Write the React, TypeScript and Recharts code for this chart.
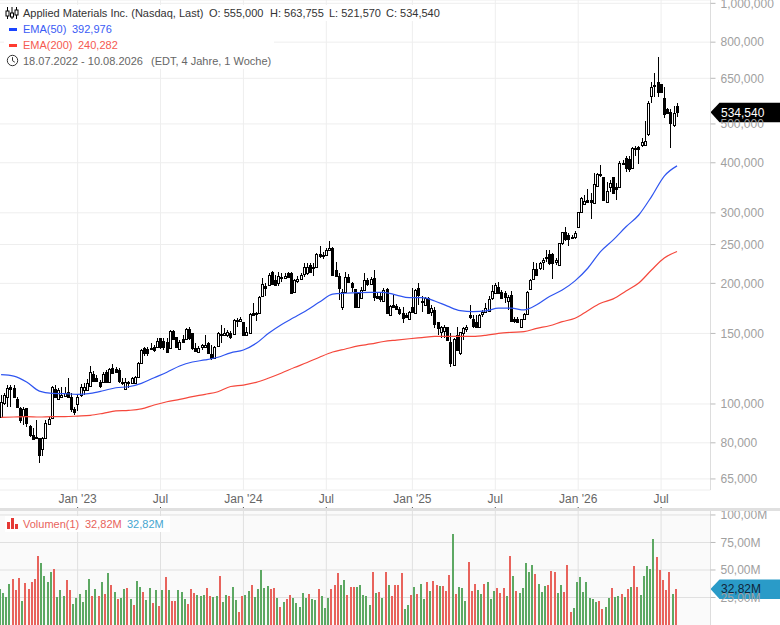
import React from 'react';
import { ComposedChart, Bar, Line, XAxis, YAxis, CartesianGrid, ReferenceLine } from 'recharts';

// weekly candles in thousands, 18.07.2022 - 10.08.2026
const opens = [
  92.8,100.6,104.2,110.3,109.7,102.9,97.7,93.3,97.7,88.1,
  83.7,82.7,82.2,77.1,82.2,89.1,92.3,109.0,102.9,104.2,
  104.7,107.2,104.2,97.2,100,105.3,108.4,108.4,110.9,118.8,
  116.1,113.5,113.5,120.2,113.5,123.0,122.3,121.6,113.5,109.0,
  113.5,112.9,112.9,116.8,126.6,138.0,137.2,138.0,138.8,138.8,
  146.2,143.7,142.9,138.0,152.1,147.0,137.2,145.3,145.3,153.9,
  150.4,138.0,134.8,138.8,138.8,142.0,133.3,130.3,139.6,149.5,
  148.7,148.7,150.4,149.5,162.1,161.2,160.2,148.7,150.4,168.7,
  167.8,168.7,186.0,197.0,198.1,213.5,203.9,200.4,206.3,206.3,
  212.3,212.3,190.3,202.7,205.2,211.1,212.3,222.2,219.7,219.7,
  236.5,235.2,235.2,242,245.1,216,208.7,174.6,190.3,207.5,
  200.4,193.6,174.6,183.9,192.5,203.9,199.3,206.3,186.0,186.0,
  180.8,193.6,166.8,176.7,175.6,172.7,168.7,166.8,163.0,174.6,
  168.7,194.7,180.8,176.7,183.9,169.7,171.7,160.2,151.3,152.1,
  155.7,142.9,125.1,148.7,134.1,150.4,153.9,166.8,163.0,160.2,
  155.7,167.8,169.7,170.7,183.9,189.2,195.9,190.3,189.2,180.8,
  187.0,163.0,163.0,155.7,163.0,167.8,193.6,205.2,217.2,218.4,
  226.1,231.1,236.5,236.5,226.1,222.2,252,268.4,263.9,260.9,
  260.9,276.1,301,315.2,322.5,322.5,316.9,350.4,375,368.5,
  318.8,348.4,368.5,348.4,348.4,398.5,412.2,408,387.3,432,
  437.5,442,442,472,587,626,638,629,580,546,
  537,497.5,555,
];
const highs = [
  105.3,106.6,111.5,111.5,111.5,104.2,98.3,98.3,97.7,88.6,
  87.1,91.2,82.2,82.7,91.2,92.8,110.9,111.5,109.7,110.3,
  110.3,116.1,106.6,98.3,105.3,112.2,112.9,115.5,124.4,120.9,
  118.2,114.8,120.2,121.6,123.0,125.8,123.7,123.0,116.1,116.1,
  114.1,116.8,117.5,127.3,137.2,138.8,138.8,142.0,140.4,146.2,
  146.2,146.2,146.2,153.0,153.0,147.0,144.5,148.7,154.8,155.7,
  150.4,142.0,139.6,141.2,148.7,142.9,140.4,139.6,151.3,157.5,
  154.8,153.0,152.1,163.0,164.0,164.9,160.2,155.7,168.7,178.7,
  169.7,186.0,206.3,200.4,212.3,214.8,209.9,213.5,212.3,212.3,
  213.5,213.5,205.2,208.7,212.3,224.8,224.8,224.8,224.8,237.9,
  247.9,239.2,245.1,255,246.5,226.1,212.3,193.6,213.5,211.1,
  201.6,193.6,189.2,195.9,212.3,206.3,207.5,216,190.3,190.3,
  194.7,194.7,176.7,187.0,177.7,174.6,174.6,168.7,170.7,194.7,
  193.6,200.4,186.0,184.9,184.9,176.7,174.6,160.2,156.6,157.5,
  155.7,150.4,146.2,155.7,151.3,155.7,157.5,176.7,166.8,166.8,
  167.8,171.7,178.7,186.0,198.1,200.4,201.6,192.5,191.4,187.0,
  191.4,164.9,164.9,163.0,168.7,191.4,205.2,226.1,224.8,226.1,
  231.1,242,242,237.9,231.1,252,268.4,276.1,266.9,263.9,
  270,301.3,327.8,331.6,343.5,336,376.6,376.6,394,368.5,
  357.5,361.5,368.5,355.5,403.1,405.5,417,417,437.5,440,
  440,460,510,569,638,668.5,735,629,617,549,
  546,555,563.755,
];
const lows = [
  92.8,99.4,98.3,98.3,103.5,98.3,89.6,88.6,87.6,82.7,
  81.3,82.2,71.3,74.2,82.2,88.6,92.3,104.2,102.3,103.5,
  104.2,103.5,95.5,93.9,96.1,104.2,105.3,107.8,110.3,113.5,
  113.5,109.7,112.9,113.5,113.5,118.8,119.5,112.9,111.5,108.4,
  109.7,112.9,112.9,116.1,126.6,131.8,131.8,136.4,134.8,138.8,
  137.2,136.4,134.1,137.2,145.3,138.0,136.4,142.0,144.5,144.5,
  136.4,134.8,134.1,136.4,138.0,133.3,128.8,129.5,138.8,142.0,
  147.8,147.0,145.3,148.7,155.7,160.2,147.8,148.7,149.5,166.8,
  161.2,167.8,184.9,186.0,197.0,198.1,197.0,197.0,201.6,205.2,
  206.3,188.1,189.2,200.4,203.9,207.5,209.9,212.3,208.7,218.4,
  231.1,229.9,233.8,240.6,208.7,207.5,181.8,171.7,190.3,200.4,
  190.3,173.7,173.7,182.8,191.4,197.0,198.1,180.8,182.8,179.7,
  180.8,167.8,166.8,173.7,171.7,166.8,159.3,164.0,162.1,168.7,
  167.8,176.7,169.7,175.6,168.7,165.9,154.8,148.7,146.2,146.2,
  144.5,123.7,124.4,135.6,132.5,144.5,151.3,163.0,154.8,154.8,
  154.8,164.9,168.7,169.7,181.8,188.1,188.1,183.9,178.7,171.7,
  161.2,159.3,159.3,155.7,163.0,167.8,192.5,203.9,208.7,216,
  216,226.1,222.2,205.2,222.2,221,249.3,255,247.9,257.9,
  257.9,274.5,299.3,313.5,316.9,289.2,315.2,348.4,368.5,320.7,
  318.8,337.6,334.4,322.5,348.4,394,378.8,378.8,385,417,
  396.4,437.5,440,467,565.5,584,584,597,516,528,
  435,491.5,521.57,
];
const closes = [
  101.2,105.3,109.7,109.0,104.2,98.3,91.2,97.2,89.6,83.7,
  81.7,82.2,74.6,82.2,89.6,91.7,110.3,104.2,108.4,105.3,
  106.6,104.2,97.2,95.5,104.2,110.3,110.3,112.9,120.2,114.1,
  114.1,110.9,118.8,113.5,122.3,119.5,120.2,114.1,112.9,113.5,
  112.9,116.1,116.8,126.6,136.4,134.1,134.1,137.8,136.4,143.7,
  138.8,138.8,134.8,152.1,145.3,138.8,142.9,142.9,153.9,146.2,
  138.0,135.6,138.0,140.4,140.4,134.1,130.3,138.8,150.4,148.7,
  150.4,151.3,147.0,162.1,161.2,163.0,148.7,151.3,167.8,166.8,
  168.7,184.9,199.3,194.7,209.9,199.3,198.1,208.7,207.5,208.7,
  207.5,189.2,203.9,205.2,209.9,219.7,219.7,213.5,219.0,236.5,
  233.8,233.8,242,245.1,209.9,208.7,194.7,190.3,207.5,201.6,
  195.9,174.6,189.2,192.5,203.9,199.3,205.2,184.9,183.9,182.8,
  192.5,168.7,175.6,174.6,172.7,168.7,164.0,164.9,169.7,169.7,
  192.5,187.0,179.7,183.9,168.7,173.7,158.4,154.8,155.7,155.7,
  144.5,126.6,145.3,136.4,151.3,154.8,155.7,164.9,156.6,155.7,
  166.8,169.7,173.7,182.8,191.4,198.1,189.2,183.9,184.9,184.9,
  161.2,161.2,160.2,163.0,167.8,190.3,203.9,217.2,209.9,224.8,
  228.7,232.5,224.8,224.8,228.7,252,268.4,257.9,257.9,260,
  266.9,301,326,320.7,318.8,318.8,354,375,372.8,322.5,
  339.6,355.5,336,343.5,398.5,396.4,387.3,385,435,435,
  432,449.5,452.5,565.5,620,623,600,600,528,531,
  504,534,534.54,
];

// moving averages as read every fourth week
const ema50 = [
  118.4,117.4,113.5,107.7,106.3,106.1,105.7,106.3,107.9,109.8,110.4,112.6,116.3,120,
  124.4,127.3,128.8,130.8,134.2,136.4,141.7,150.4,158,164.6,171.7,180,188,189,
  189.7,190,190,187,184.2,184.2,180.8,175.5,171,170,170.7,173.4,173.4,171.7,
  176.8,185.5,192.5,202.9,218.2,240,256.8,276.9,296.3,329.4,370.7,392.976,
];
const ema200 = [
  92.6,92.8,93,92.8,93,93,93.3,93.7,94.8,96.1,96.4,97.2,99.4,101.3,
  102.7,104.3,105.7,107.3,110.6,111.5,113.2,116.1,119.5,123.3,126.9,131,134.8,137.2,
  139.6,141.2,143.2,144.4,145.5,146.5,147.5,147.5,147.5,147.5,148.4,150.1,151,151.5,
  154.5,156.8,160.5,163.7,171,178.4,183,191.5,200.4,216,231.4,240.282,
];

// volume in millions
const volumes = [
  32.8,29.2,25.6,37.3,41.8,31.9,42.7,22,38.2,32.8,
  39.1,41.8,62.6,56.3,44.5,39.1,48.2,50.9,25.6,31.9,
  26.5,40.9,31.9,19.3,24.7,28.3,21.1,31.9,41.8,26.5,
  32.8,26.5,39.1,28.3,47.3,36.4,30.1,23.8,24.7,32.8,
  33.7,23.8,18.4,40,34.6,30.1,22.9,33.7,20.2,31.9,
  17.5,31.9,43.6,31.9,22,22,31.9,30.1,23.8,19.3,
  32.8,29.2,27.4,26.5,27.4,33.7,26.5,25.6,26.5,44.5,
  21.1,27.4,26.5,34.6,22.9,12,26.5,27.4,31,36.4,
  25.6,32.8,50,33.7,35.5,32.8,33.7,24.7,16.6,21.1,
  23.8,27.4,24.7,20.2,16.6,29.2,24.7,28.3,23.8,22.9,
  32.8,26.5,15.7,24.7,32.8,36.4,47.3,36.4,40.9,27.4,
  34.6,34.6,34.6,36.4,27.4,26.5,18.4,48.2,29.2,30.1,
  24.7,48.2,36.4,26.5,36.4,36.4,47.3,14.7,18.4,27.4,
  34.6,28.3,37.3,23.8,39.1,31,40,36.4,35.5,35.5,
  31,45.5,82.5,28.3,34.6,33.7,22,57.2,31,37.3,
  31.9,28.3,37.3,39.1,23.8,31,33.7,29.2,33.7,26.5,
  62.6,44.5,31,29.2,33.7,56.3,48.2,54.5,46.4,37.3,
  30.1,35.5,36.4,49.1,48.2,29.2,36.4,30.1,54.5,12,
  15.7,39.1,43.6,30.1,39.1,24.7,23.8,21.1,22,14.7,
  16.6,24.7,33.7,25.6,26.5,28.3,25.6,32.8,34.6,53.6,
  34.6,27.4,44.5,53.6,50.9,78,61.7,50,40.9,31.9,
  48.2,28.3,32.82,
];
// G/R = filled green/red, g/r = hollow
const volumeKinds =
  'GGGGRrRGRR' + 'RrRGGGgRGG' + 'GrRGGGgGGR' + 'GrGRGRGrGG' + 'RGrGGRGgRG' + 'RGrGRRGgGR' +
  'RRgGGRRGgR' + 'GGRgGRRGgR' + 'GGGgGRRGrG' + 'RRGGgGGRGg' + 'RGGGrRRGGr' + 'RRGGgGGRGR' +
  'gRGRRrRGGR' + 'gRGGRgRRGR' + 'RRGRGgGRRR' + 'GgRGGGrRRG' + 'RgRGGGgGRG' + 'GgRRRGGrRR' +
  'GGgGGGGgRR' + 'GGrGGRGrGR' + 'RGGgGGRRrR' + 'RGR';

const priceTicks = [65, 80, 100, 150, 200, 250, 300, 400, 500, 650, 800, 1000];
const volumeTicks = [25, 50, 75, 100];
const timeTickWeeks = [24, 50, 76, 102, 129, 155, 181, 207];
const timeTickLabels = ["Jan '23", 'Jul', "Jan '24", 'Jul', "Jan '25", 'Jul', "Jan '26", 'Jul'];
const lastPrice = 534.54;
const lastVolume = 32.82;
const emptyWeeks = 10; // free room right of the last candle

const priceData = [...closes, ...Array(emptyWeeks).fill(null)].map((c, i) =>
  c === null
    ? { week: i }
    : { week: i, open: opens[i], close: c, high: highs[i], low: lows[i], range: [lows[i], highs[i]] },
);
const ema50Points = ema50.map((value, k) => ({ week: k * 4, value }));
const ema200Points = ema200.map((value, k) => ({ week: k * 4, value }));
const volumeData = [...volumes, ...Array(emptyWeeks).fill(null)].map((v, i) =>
  v === null ? { week: i } : { week: i, volume: v, kind: volumeKinds[i] },
);

const FONT = '"Liberation Sans", Arial, sans-serif';
const CHART_MARGIN = { top: 0, right: 0, bottom: 0, left: -0.5 };
const AXIS_WIDTH = 69.5;

const Candle = (props: any) => {
  const { x, y, width, height, payload } = props;
  if (payload.open === undefined) return null;
  const h = Math.abs(height);
  const logSpan = Math.log(payload.high) - Math.log(payload.low) || 1;
  const at = (v: number) => y + (h * (Math.log(payload.high) - Math.log(v))) / logSpan;
  const left = Math.round(x + width / 2 - 1.5);
  const hollow = payload.close >= payload.open;
  const top = Math.round(at(Math.max(payload.open, payload.close)));
  const bottom = Math.max(Math.round(at(Math.min(payload.open, payload.close))), top + 1);
  return (
    <g shapeRendering="crispEdges">
      <line x1={left + 1.5} x2={left + 1.5} y1={y} y2={y + h} stroke="#000" strokeWidth={1} />
      <rect x={left + 0.5} y={top + 0.5} width={2} height={bottom - top} fill={hollow ? '#fff' : '#000'} stroke="#000" strokeWidth={1} />
    </g>
  );
};

const VolumeBar = (props: any) => {
  const { x, y, width, height, payload } = props;
  if (!payload.kind) return null;
  const left = Math.round(x + width / 2 - 2.5);
  const up = payload.kind === 'G' || payload.kind === 'g';
  const hollow = payload.kind === 'g' || payload.kind === 'r';
  const color = up ? '#5da863' : '#e8635c';
  if (hollow) {
    return (
      <rect x={left + 0.5} y={y + 0.5} width={1.4} height={height} fill={up ? '#a5d0a8' : '#f5aaa6'} stroke={color} strokeWidth={1} shapeRendering="crispEdges" />
    );
  }
  return <rect x={left} y={y} width={2.4} height={height} fill={color} shapeRendering="crispEdges" />;
};

const TimeTick = (props: any) => {
  const { x, y, payload } = props;
  const label = timeTickLabels[timeTickWeeks.indexOf(payload.value)];
  return (
    <g>
      <text x={x} y={y + 11} textAnchor="middle" fill="#666" fontSize={12} fontFamily={FONT}>{label}</text>
      <line x1={x} x2={x} y1={y + 15} y2={y + 18} stroke="#555" />
    </g>
  );
};

const priceTag = (text: string, fill: string, color: string) => (props: any) => {
  const right = Math.max(props.x1 ?? 0, props.x2 ?? 0);
  const cy = props.y1 ?? 0;
  return (
    <g>
      <polygon points={`${right},${cy} ${right + 9},${cy - 9.5} 780,${cy - 9.5} 780,${cy + 10} ${right + 9},${cy + 10}`} fill={fill} />
      <text x={721} y={cy + 4.5} fill={color} fontSize={12} fontFamily={FONT}>{text}</text>
    </g>
  );
};

const Txt = ({ x, y, color, children }: any) => (
  <span style={{ position: 'absolute', left: x, top: y, color, fontSize: 11, lineHeight: '16px', fontFamily: FONT, whiteSpace: 'pre' }}>{children}</span>
);

const Header = () => (
  <>
    <div style={{ position: 'absolute', left: 4, top: 5, width: 441, height: 16, background: '#fff' }} />
    <div style={{ position: 'absolute', left: 4, top: 21, width: 270, height: 48, background: '#fff' }} />
    <svg style={{ position: 'absolute', left: 5, top: 6 }} width={14} height={14}>
      <path d="M2.5 1v12M7 1v12M11.5 1v12" stroke="#000" strokeWidth={1} />
      <rect x={1} y={5} width={3} height={5} fill="#fff" stroke="#000" />
      <rect x={5.5} y={7} width={3} height={4} fill="#fff" stroke="#000" />
      <rect x={10} y={4} width={3} height={5} fill="#fff" stroke="#000" />
    </svg>
    <Txt x={23} y={5} color="#333">Applied Materials Inc. (Nasdaq, Last)</Txt>
    <Txt x={209} y={5} color="#333">O: 555,000</Txt>
    <Txt x={270} y={5} color="#333">H: 563,755</Txt>
    <Txt x={329} y={5} color="#333">L: 521,570</Txt>
    <Txt x={386} y={5} color="#333">C: 534,540</Txt>
    <div style={{ position: 'absolute', left: 9, top: 28, width: 8, height: 3, background: '#1a44ff' }} />
    <Txt x={23} y={21} color="#3a5bf5">EMA(50)</Txt>
    <Txt x={72} y={21} color="#3a5bf5">392,976</Txt>
    <div style={{ position: 'absolute', left: 9, top: 44, width: 8, height: 3, background: '#ff3b30' }} />
    <Txt x={23} y={37} color="#f55a50">EMA(200)</Txt>
    <Txt x={78} y={37} color="#f55a50">240,282</Txt>
    <svg style={{ position: 'absolute', left: 6, top: 54 }} width={13} height={13}>
      <circle cx={6.5} cy={6.5} r={5.2} fill="none" stroke="#333" strokeWidth={1} />
      <path d="M6.5 3.2v3.5l2.3 1.5" fill="none" stroke="#333" strokeWidth={1} />
    </svg>
    <Txt x={23} y={53} color="#666">18.07.2022 - 10.08.2026</Txt>
    <Txt x={151} y={53} color="#666">(EDT, 4 Jahre, 1 Woche)</Txt>

    <div style={{ position: 'absolute', left: 5, top: 516, width: 165, height: 16, background: '#fff' }} />
    <svg style={{ position: 'absolute', left: 7, top: 518 }} width={12} height={11}>
      <rect x={0} y={4} width={3} height={7} fill="#e53935" />
      <rect x={4} y={0} width={3} height={11} fill="#e53935" />
      <rect x={8} y={6} width={3} height={5} fill="#e53935" />
    </svg>
    <Txt x={23} y={516} color="#e8635c">Volumen(1)</Txt>
    <Txt x={85} y={516} color="#e8635c">32,82M</Txt>
    <Txt x={127} y={516} color="#45a5cf">32,82M</Txt>
  </>
);

const App: React.FC = () => {
  return (
    <div style={{ position: 'absolute', left: 0, top: 0, width: 780, height: 625, overflow: 'hidden', background: '#fff' }}>
      <div style={{ position: 'absolute', left: 0, top: 0 }}>
        <ComposedChart width={780} height={508} data={priceData} margin={CHART_MARGIN}>
          <CartesianGrid stroke="#eeeeee" />
          <XAxis dataKey="week" type="category" ticks={timeTickWeeks} interval={0} height={18} axisLine={false} tickLine={false} tickSize={0} tick={TimeTick} />
          <XAxis xAxisId="weeks" dataKey="week" type="number" domain={[-0.5, closes.length + emptyWeeks - 0.5]} hide height={0} />
          <YAxis
            orientation="right"
            scale="log"
            domain={[61, 1019.4]}
            allowDataOverflow
            ticks={priceTicks}
            interval={0}
            width={AXIS_WIDTH}
            axisLine={{ stroke: '#dddddd' }}
            tickLine={{ stroke: '#bbbbbb' }}
            tickSize={5}
            tickMargin={5}
            tick={{ fill: '#a0a0a0', fontSize: 12, fontFamily: FONT }}
            tickFormatter={(v: number) => (v * 1000).toLocaleString('en-US')}
          />
          <Bar dataKey="range" shape={Candle} isAnimationActive={false} />
          <Line xAxisId="weeks" data={ema50Points} dataKey="value" name="EMA(50)" type="monotone" stroke="#2f55f0" strokeWidth={1.2} dot={false} activeDot={false} isAnimationActive={false} />
          <Line xAxisId="weeks" data={ema200Points} dataKey="value" name="EMA(200)" type="monotone" stroke="#f5483c" strokeWidth={1.2} dot={false} activeDot={false} isAnimationActive={false} />
          <ReferenceLine y={lastPrice} ifOverflow="visible" shape={priceTag('534,540', '#000', '#fff')} />
        </ComposedChart>
      </div>
      <div style={{ position: 'absolute', left: 0, top: 508, width: 780, height: 3, background: '#e0e0e0' }} />
      <div style={{ position: 'absolute', left: 0, top: 511 }}>
        <ComposedChart width={780} height={114} data={volumeData} margin={CHART_MARGIN}>
          <CartesianGrid stroke="#e0e0e0" fill="#fafafa" syncWithTicks />
          <XAxis dataKey="week" type="category" ticks={timeTickWeeks} interval={0} hide />
          <YAxis
            orientation="right"
            domain={[0, 103.6]}
            allowDataOverflow
            ticks={volumeTicks}
            interval={0}
            width={AXIS_WIDTH}
            axisLine={{ stroke: '#dddddd' }}
            tickLine={{ stroke: '#bbbbbb' }}
            tickSize={5}
            tickMargin={5}
            tick={{ fill: '#a0a0a0', fontSize: 12, fontFamily: FONT }}
            tickFormatter={(v: number) => `${v},00M`}
          />
          <Bar dataKey="volume" shape={VolumeBar} isAnimationActive={false} />
          <ReferenceLine y={lastVolume} ifOverflow="visible" shape={priceTag('32,82M', '#2a9bc8', '#12263a')} />
        </ComposedChart>
      </div>
      <Header />
    </div>
  );
};

export default App;
